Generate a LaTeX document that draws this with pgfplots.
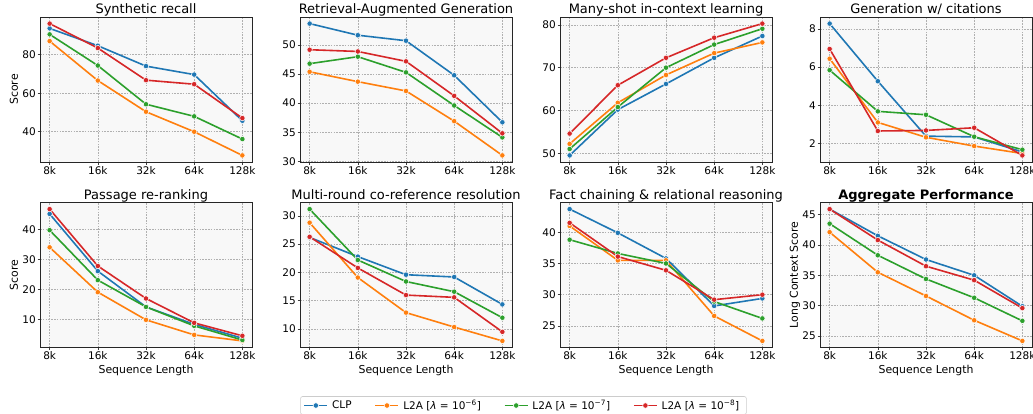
\documentclass[border=0pt]{standalone}
\usepackage{pgfplots}
\pgfplotsset{compat=1.18}
\usepackage{fontspec}
\setmainfont{DejaVu Sans}

\definecolor{cblue}{HTML}{1F77B4}
\definecolor{corange}{HTML}{FF7F0E}
\definecolor{cgreen}{HTML}{2CA02C}
\definecolor{cred}{HTML}{D62728}
\definecolor{panelbg}{HTML}{F8F8F8}
\definecolor{gridc}{HTML}{B0B0B0}
\definecolor{legframe}{HTML}{CCCCCC}

\newcommand{\ticksize}{\fontsize{10.5bp}{12bp}\selectfont}
\newcommand{\labelsize}{\fontsize{10.9bp}{13bp}\selectfont}
\newcommand{\titlesize}{\fontsize{13bp}{15bp}\selectfont}

\pgfplotscreateplotcyclelist{runs}{%
  {cblue, line width=1.6bp, mark=*, mark size=2.7bp, mark options={fill=cblue, draw=white, line width=0.5bp}},%
  {corange, line width=1.6bp, mark=*, mark size=2.7bp, mark options={fill=corange, draw=white, line width=0.5bp}},%
  {cgreen, line width=1.6bp, mark=*, mark size=2.7bp, mark options={fill=cgreen, draw=white, line width=0.5bp}},%
  {cred, line width=1.6bp, mark=*, mark size=2.7bp, mark options={fill=cred, draw=white, line width=0.5bp}}%
}

\pgfplotsset{
  every axis title shift=0pt,
  panel/.style={
    scale only axis,
    width=212bp, height=145bp,
    anchor=north west,
    xmin=-0.2, xmax=4.2,
    xtick={0,1,2,3,4},
    xticklabels={8k,16k,32k,64k,128k},
    enlarge y limits=0.05,
    axis background/.style={fill=panelbg},
    grid=major,
    major grid style={gridc, line width=0.6bp, dash pattern=on 1.6bp off 1.2bp},
    axis line style={black!85, line width=0.9bp},
    tick style={black!75, line width=0.6bp},
    major tick length=2.5bp,
    tick align=outside,
    tick pos=left,
    tick label style={font=\ticksize},
    /pgf/number format/assume math mode=true,
    xticklabel style={inner sep=0pt, anchor=north, yshift=-1.5bp},
    yticklabel style={inner sep=0pt, anchor=east, xshift=-1.5bp},
    title style={font=\titlesize, at={(0.5,1)}, anchor=base, yshift=3.5bp, inner sep=0pt},
    every axis y label/.style={at={(axis description cs:-0.104,0.5)}, rotate=90, anchor=base, font=\labelsize, inner sep=0pt},
    every axis x label/.style={at={(axis description cs:0.5,0)}, anchor=base, yshift=-26bp, font=\labelsize, inner sep=0pt},
    cycle list name=runs,
  },
}

\begin{document}
\begin{tikzpicture}
\useasboundingbox (0bp,0bp) rectangle (1033bp,-414bp);

% ---- row 1 ----
\begin{axis}[panel, at={(40bp,-17bp)}, title={Synthetic recall}, ylabel={Score}, ytick={40,60,80}]
\addplot coordinates {(0,93.7) (1,84.7) (2,74.1) (3,69.7) (4,45.7)};
\addplot coordinates {(0,87.1) (1,66.6) (2,50.4) (3,40.0) (4,27.7)};
\addplot coordinates {(0,90.6) (1,74.4) (2,54.3) (3,48.0) (4,36.2)};
\addplot coordinates {(0,96.2) (1,83.5) (2,66.8) (3,64.7) (4,47.1)};
\end{axis}

\begin{axis}[panel, at={(300bp,-17bp)}, title={Retrieval-Augmented Generation}, ytick={30,35,40,45,50}]
\addplot coordinates {(0,53.7) (1,51.7) (2,50.75) (3,44.8) (4,36.7)};
\addplot coordinates {(0,45.4) (1,43.7) (2,42.1) (3,36.9) (4,31.0)};
\addplot coordinates {(0,46.8) (1,48.0) (2,45.3) (3,39.6) (4,34.1)};
\addplot coordinates {(0,49.2) (1,48.9) (2,47.2) (3,41.25) (4,34.8)};
\end{axis}

\begin{axis}[panel, at={(560bp,-17bp)}, title={Many-shot in-context learning}, ytick={50,60,70,80}]
\addplot coordinates {(0,49.5) (1,60.2) (2,66.2) (3,72.3) (4,77.4)};
\addplot coordinates {(0,52.2) (1,61.8) (2,68.3) (3,73.4) (4,75.9)};
\addplot coordinates {(0,51.0) (1,60.8) (2,70.0) (3,75.4) (4,79.1)};
\addplot coordinates {(0,54.6) (1,65.9) (2,72.3) (3,77.0) (4,80.3)};
\end{axis}

\begin{axis}[panel, at={(820bp,-17bp)}, title={Generation w/ citations}, ytick={2,4,6,8}]
\addplot coordinates {(0,8.28) (1,5.26) (2,2.38) (3,2.34) (4,1.55)};
\addplot coordinates {(0,6.44) (1,3.10) (2,2.32) (3,1.86) (4,1.47)};
\addplot coordinates {(0,5.84) (1,3.68) (2,3.50) (3,2.35) (4,1.67)};
\addplot coordinates {(0,6.95) (1,2.65) (2,2.68) (3,2.82) (4,1.37)};
\end{axis}

% ---- row 2 ----
\begin{axis}[panel, at={(40bp,-202.5bp)}, title={Passage re-ranking}, ylabel={Score}, xlabel={Sequence Length}, ytick={10,20,30,40}]
\addplot coordinates {(0,45.1) (1,26.1) (2,14.2) (3,8.4) (4,3.8)};
\addplot coordinates {(0,34.0) (1,19.1) (2,9.9) (3,4.9) (4,2.9)};
\addplot coordinates {(0,39.7) (1,23.1) (2,14.2) (3,7.9) (4,3.2)};
\addplot coordinates {(0,46.7) (1,27.8) (2,17.0) (3,8.9) (4,4.6)};
\end{axis}

\begin{axis}[panel, at={(300bp,-202.5bp)}, title={Multi-round co-reference resolution}, xlabel={Sequence Length}, ytick={10,15,20,25,30},
  legend columns=4,
  legend image code/.code={\draw[mark repeat=2,mark phase=2,#1] plot coordinates {(0bp,0bp) (11.5bp,0bp) (23bp,0bp)};},
  legend style={at={(1.054,-0.40)}, anchor=center, draw=legframe, line width=0.6bp, rounded corners=2bp, fill=white,
    font=\ticksize, inner xsep=3bp, inner ysep=1.5bp,
    /tikz/every even column/.append style={column sep=19bp},
    nodes={inner xsep=4bp, inner ysep=2bp}}]
\addplot coordinates {(0,26.2) (1,22.8) (2,19.6) (3,19.2) (4,14.35)};
\addplot coordinates {(0,28.8) (1,19.1) (2,12.9) (3,10.35) (4,7.9)};
\addplot coordinates {(0,31.2) (1,22.2) (2,18.4) (3,16.6) (4,12.0)};
\addplot coordinates {(0,26.3) (1,20.8) (2,16.0) (3,15.6) (4,9.5)};
\legend{CLP, L2A [\textit{λ} = 10\textsuperscript{−6}], L2A [\textit{λ} = 10\textsuperscript{−7}], L2A [\textit{λ} = 10\textsuperscript{−8}]}
\end{axis}

\begin{axis}[panel, at={(560bp,-202.5bp)}, title={Fact chaining \& relational reasoning}, xlabel={Sequence Length}, ytick={25,30,35,40}]
\addplot coordinates {(0,43.7) (1,39.9) (2,35.8) (3,28.2) (4,29.4)};
\addplot coordinates {(0,41.0) (1,35.5) (2,35.5) (3,26.6) (4,22.6)};
\addplot coordinates {(0,38.8) (1,36.6) (2,35.0) (3,28.9) (4,26.2)};
\addplot coordinates {(0,41.5) (1,36.1) (2,33.9) (3,29.2) (4,30.0)};
\end{axis}

\begin{axis}[panel, at={(820bp,-202.5bp)}, title={\textbf{Aggregate Performance}}, ylabel={Long Context Score}, xlabel={Sequence Length}, ytick={25,30,35,40,45}]
\addplot coordinates {(0,45.9) (1,41.5) (2,37.6) (3,35.0) (4,29.9)};
\addplot coordinates {(0,42.1) (1,35.5) (2,31.6) (3,27.6) (4,24.2)};
\addplot coordinates {(0,43.5) (1,38.3) (2,34.4) (3,31.3) (4,27.5)};
\addplot coordinates {(0,45.9) (1,40.8) (2,36.5) (3,34.2) (4,29.6)};
\end{axis}
\end{tikzpicture}
\end{document}
